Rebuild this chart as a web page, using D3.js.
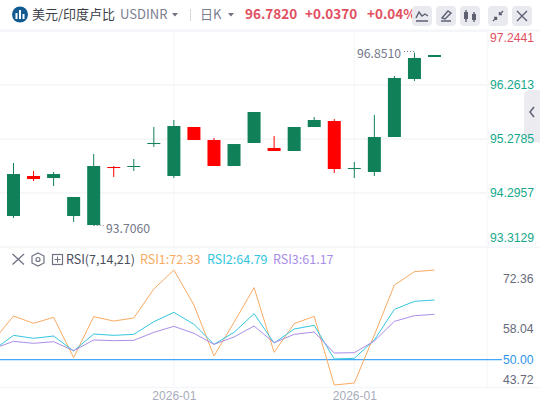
<!DOCTYPE html>
<html>
<head>
<meta charset="utf-8">
<script src="https://cdn.jsdelivr.net/npm/d3@7"></script>
<style>
  html, body { margin: 0; padding: 0; background: #fff; }
  svg { display: block; font-family: "Noto Sans CJK SC", "Noto Sans", sans-serif; }
</style>
</head>
<body>
<div id="chart"></div>
<script>
// candle data, oldest first
var open  = [93.877, 94.605, 94.568, 93.877, 93.713, 94.769, 94.769, 95.187, 94.605, 95.497, 95.260, 94.787, 95.206, 95.115, 95.060, 95.497, 95.606, 94.732, 94.678, 95.315, 96.370, 96.771];
var close = [94.641, 94.550, 94.641, 94.223, 94.787, 94.750, 94.787, 95.206, 95.515, 95.260, 94.787, 95.187, 95.770, 95.060, 95.497, 95.624, 94.732, 94.750, 95.315, 96.389, 96.753, 96.807];
var high  = [94.841, 94.696, 94.678, 94.223, 95.005, 94.787, 94.914, 95.497, 95.624, 95.497, 95.297, 95.187, 95.770, 95.333, 95.497, 95.679, 95.642, 94.860, 95.715, 96.425, 96.851, 96.807];
var low   = [93.840, 94.514, 94.423, 93.768, 93.706, 94.587, 94.696, 95.133, 94.568, 95.260, 94.787, 94.787, 95.206, 95.060, 95.060, 95.497, 94.659, 94.568, 94.605, 95.315, 96.334, 96.771];

// rsi series start one candle before the first visible one
var rsi1 = [55.50, 62.41, 60.33, 62.03, 50.58, 62.22, 60.99, 61.84, 70.09, 75.48, 65.54, 51.05, 60.61, 70.46, 52.09, 60.24, 62.32, 42.81, 43.38, 57.02, 71.22, 75.01, 75.48];
var rsi2 = [52.75, 56.92, 56.07, 56.73, 52.47, 57.30, 56.92, 57.20, 60.80, 63.46, 60.05, 54.36, 57.77, 63.08, 54.74, 58.72, 59.76, 50.20, 50.39, 55.60, 64.31, 66.58, 66.96];
var rsi3 = [53.14, 55.22, 54.65, 55.12, 52.56, 55.60, 55.41, 55.50, 57.77, 59.48, 57.49, 54.36, 56.45, 59.57, 54.84, 57.20, 57.87, 51.90, 51.99, 55.31, 60.90, 62.51, 62.89];

var priceTicks = [97.2441, 96.2613, 95.2785, 94.2957, 93.3129];
var rsiTicks = [72.36, 58.04, 50.00, 43.72];
var dateTicks = [8, 17];
var dateLabel = "2026-01";

var width = 540;
var height = 408;
var plotRight = 487;

var green = "#108058";
var red = "#ff0000";
var gridColor = "#f4f5f8";

var svg = d3.select("#chart")
    .append("svg")
    .attr("width", width)
    .attr("height", height);

var x = d3.scaleLinear().domain([0, 21]).range([13.5, 434.5]);
var priceY = d3.scaleLinear().domain([93.3129, 97.2441]).range([247, 31]);
var rsiY = d3.scaleLinear().domain([50, 72.36]).range([359.7, 281]);

// side panel toggle, sits under the axis labels
svg.append("path").attr("d", "M540 90 H530 Q524 90 524 96 V135 Q524 140 530 141 L540 143 Z").attr("fill", "#ebebf0");
svg.append("path").attr("d", "M534 107 L530 112 L534 117").attr("fill", "none").attr("stroke", "#5c6070").attr("stroke-width", 1.5);

// grid
svg.append("g").selectAll("line")
    .data(priceTicks)
    .join("line")
    .attr("x1", 0)
    .attr("x2", plotRight)
    .attr("y1", d => priceY(d))
    .attr("y2", d => priceY(d))
    .attr("stroke", gridColor)
    .attr("stroke-width", 1.5);

svg.append("g").selectAll("line")
    .data(dateTicks)
    .join("line")
    .attr("x1", d => x(d))
    .attr("x2", d => x(d))
    .attr("y1", 31)
    .attr("y2", 388)
    .attr("stroke", gridColor)
    .attr("stroke-width", 1);

svg.append("line").attr("x1", plotRight).attr("x2", plotRight).attr("y1", 31).attr("y2", 388)
    .attr("stroke", gridColor);
svg.append("line").attr("x1", 0).attr("x2", width).attr("y1", 30.5).attr("y2", 30.5)
    .attr("stroke", gridColor).attr("stroke-width", 2);
svg.append("line").attr("x1", 0).attr("x2", width).attr("y1", 247.5).attr("y2", 247.5)
    .attr("stroke", gridColor).attr("stroke-width", 1.5);
svg.append("line").attr("x1", 0).attr("x2", width).attr("y1", 387.5).attr("y2", 387.5)
    .attr("stroke", gridColor).attr("stroke-width", 1.5);

// candles
var candles = svg.append("g").selectAll("g")
    .data(d3.range(open.length))
    .join("g")
    .attr("fill", i => close[i] >= open[i] ? green : red)
    .attr("stroke", i => close[i] >= open[i] ? green : red);

candles.append("line")
    .attr("x1", i => x(i))
    .attr("x2", i => x(i))
    .attr("y1", i => priceY(high[i]))
    .attr("y2", i => priceY(low[i]))
    .attr("stroke-width", 1);

candles.append("rect")
    .attr("x", i => x(i) - 6.5)
    .attr("width", 13)
    .attr("y", i => priceY(Math.max(open[i], close[i])))
    .attr("height", i => Math.max(1, Math.abs(priceY(open[i]) - priceY(close[i]))))
    .attr("stroke", "none");

// high / low labels with the small dotted leaders
svg.append("line").attr("x1", 404).attr("x2", x(20)).attr("y1", 51.5).attr("y2", 51.5)
    .attr("stroke", "#777b8c").attr("stroke-dasharray", "1 2");
svg.append("text").attr("x", 401).attr("y", 58).attr("text-anchor", "end")
    .attr("font-size", 12.2).attr("fill", "#737788").text(d3.max(high).toFixed(4));
svg.append("line").attr("x1", x(4)).attr("x2", 104).attr("y1", 225.5).attr("y2", 225.5)
    .attr("stroke", "#777b8c").attr("stroke-dasharray", "1 2");
svg.append("text").attr("x", 106).attr("y", 233)
    .attr("font-size", 12.2).attr("fill", "#737788").text(d3.min(low).toFixed(4));

// price axis
var priceAxis = svg.append("g")
    .attr("transform", `translate(${plotRight + 3},0)`)
    .call(d3.axisRight(priceY).tickValues(priceTicks).tickSize(0).tickFormat(d3.format(".4f")));
priceAxis.select(".domain").remove();
priceAxis.selectAll(".tick")
    .attr("transform", d => `translate(0,${Math.min(238, Math.max(38, priceY(d)))})`);
priceAxis.selectAll("text")
    .attr("x", 0)
    .attr("font-size", 12.2)
    .attr("font-family", "inherit")
    .attr("fill", (d, i) => i == 0 ? "#e0505f" : "#14a98c");

// rsi lines
var rsiLine = d3.line()
    .x((d, i) => x(i - 1))
    .y(d => rsiY(d));

var rsiSeries = [
    { values: rsi1, color: "#f8ab62" },
    { values: rsi2, color: "#33c6de" },
    { values: rsi3, color: "#a98ee8" }
];

svg.append("line")
    .attr("x1", 0)
    .attr("x2", plotRight + 15)
    .attr("y1", rsiY(50))
    .attr("y2", rsiY(50))
    .attr("stroke", "#45a7f5")
    .attr("stroke-width", 1.3);

svg.append("g").selectAll("path")
    .data(rsiSeries)
    .join("path")
    .attr("d", d => rsiLine(d.values))
    .attr("fill", "none")
    .attr("stroke", d => d.color)
    .attr("stroke-width", 1);

// rsi axis
var rsiAxis = svg.append("g")
    .attr("transform", `translate(${plotRight + 3},0)`)
    .call(d3.axisRight(rsiY).tickValues(rsiTicks).tickSize(0).tickFormat(d3.format(".2f")));
rsiAxis.select(".domain").remove();
rsiAxis.selectAll("text")
    .attr("x", 13)
    .attr("dy", d => d == 50 ? "0.32em" : "0.1em")
    .attr("font-size", 12.2)
    .attr("font-family", "inherit")
    .attr("fill", d => d == 50 ? "#2f94ee" : "#666a7a");

// date axis
var dateAxis = svg.append("g")
    .attr("transform", "translate(0,388)")
    .call(d3.axisBottom(x).tickValues(dateTicks).tickSize(0).tickFormat(() => dateLabel));
dateAxis.select(".domain").remove();
dateAxis.selectAll("text")
    .attr("y", 3)
    .attr("font-size", 12)
    .attr("font-family", "inherit")
    .attr("fill", "#a8acbc");

// rsi legend
var iconColor = "#6e7282";
var closeIcon = svg.append("g").attr("stroke", iconColor).attr("stroke-width", 1.3);
closeIcon.append("line").attr("x1", 12.5).attr("y1", 254).attr("x2", 24).attr("y2", 264.5);
closeIcon.append("line").attr("x1", 24).attr("y1", 254).attr("x2", 12.5).attr("y2", 264.5);
svg.append("path").attr("d", "M38 253 L44 256 L44 263 L38 266 L32 263 L32 256 Z")
    .attr("fill", "none").attr("stroke", iconColor).attr("stroke-width", 1.2);
svg.append("circle").attr("cx", 38).attr("cy", 259.5).attr("r", 2)
    .attr("fill", "none").attr("stroke", iconColor).attr("stroke-width", 1.2);
svg.append("rect").attr("x", 52.5).attr("y", 254.5).attr("width", 10).attr("height", 10)
    .attr("fill", "none").attr("stroke", iconColor).attr("stroke-width", 1.2);
svg.append("path").attr("d", "M54.5 259.5 H60.5 M57.5 256.5 V262.5")
    .attr("stroke", iconColor).attr("stroke-width", 1);

var legendItems = [
    { label: "RSI(7,14,21)", x: 66, color: "#4a4e5c" },
    { label: "RSI1:72.33", x: 140, color: "#f8ab62" },
    { label: "RSI2:64.79", x: 207, color: "#33c6de" },
    { label: "RSI3:61.17", x: 273, color: "#a98ee8" }
];
svg.append("g").selectAll("text")
    .data(legendItems)
    .join("text")
    .attr("x", d => d.x)
    .attr("y", 264)
    .attr("font-size", 12.5)
    .attr("fill", d => d.color)
    .text(d => d.label);

// header
svg.append("circle").attr("cx", 20).attr("cy", 14.5).attr("r", 8).attr("fill", "#125b90");
svg.append("g").selectAll("rect")
    .data([[15.5, 13, 2, 6], [19, 10, 2, 9], [22.5, 14, 2, 5]])
    .join("rect")
    .attr("x", d => d[0]).attr("y", d => d[1]).attr("width", d => d[2]).attr("height", d => d[3])
    .attr("fill", "#fff");

var headerTexts = [
    { label: "美元/印度卢比", x: 32, size: 13, color: "#3c3f4a", weight: 400 },
    { label: "USDINR", x: 120, size: 13, color: "#7a7e90", weight: 400 },
    { label: "日K", x: 200, size: 13, color: "#7a7e90", weight: 400 },
    { label: "96.7820", x: 245, size: 13.5, color: "#e0505f", weight: 700 },
    { label: "+0.0370", x: 305, size: 13.5, color: "#e0505f", weight: 700 },
    { label: "+0.04%", x: 367, size: 13.5, color: "#e0505f", weight: 700 }
];
svg.append("g").selectAll("text")
    .data(headerTexts)
    .join("text")
    .attr("x", d => d.x)
    .attr("y", 19)
    .attr("font-size", d => d.size)
    .attr("font-weight", d => d.weight)
    .attr("fill", d => d.color)
    .text(d => d.label);

svg.append("g").selectAll("path")
    .data([175, 231])
    .join("path")
    .attr("d", d => `M${d - 3} 13 H${d + 3} L${d} 16.5 Z`)
    .attr("fill", "#6e7282");
svg.append("line").attr("x1", 190.5).attr("x2", 190.5).attr("y1", 9).attr("y2", 21)
    .attr("stroke", "#d5d7df");

// toolbar buttons
var buttonX = [412, 436, 460, 488, 512];
svg.append("g").selectAll("rect")
    .data(buttonX)
    .join("rect")
    .attr("x", d => d)
    .attr("y", 6)
    .attr("width", 20)
    .attr("height", 20)
    .attr("rx", 4)
    .attr("fill", "#e8eaf0");

var icons = [
    "M416 18 L419 12 L422 16 L425 14 L428 16 M416 21 H428",
    "M441 21 H451 M442 18 L448 11 L451 13 L445 19 Z",
    "M466 10 V22 M474 12 V22",
    "M493 21 L496.5 17.5 M503 11 L499.5 14.5 M494 17.5 H496.5 V20 M499.5 12 V14.5 H502",
    "M517 11 L527 21 M527 11 L517 21"
];
svg.append("g").selectAll("path")
    .data(icons)
    .join("path")
    .attr("d", d => d)
    .attr("fill", "none")
    .attr("stroke", "#5c6070")
    .attr("stroke-width", 1.4);
svg.append("rect").attr("x", 464).attr("y", 12).attr("width", 4).attr("height", 7).attr("fill", "#5c6070");
svg.append("rect").attr("x", 472).attr("y", 14).attr("width", 4).attr("height", 6).attr("fill", "#5c6070");
</script>
</body>
</html>
